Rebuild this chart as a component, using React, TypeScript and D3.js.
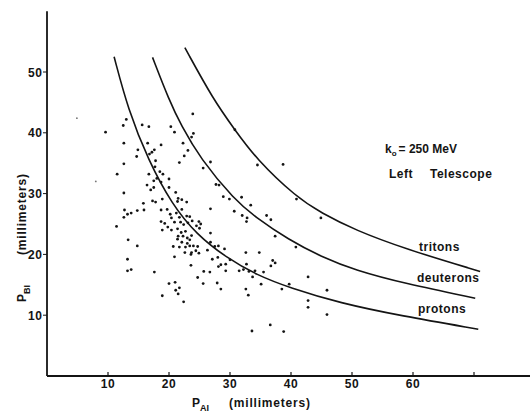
import React, { useEffect, useRef } from 'react';
import * as d3 from 'd3';

// event coordinates (P_AI, P_BI in mm)
const eventPA = [
  9.6, 13.0, 12.5, 15.6, 16.7, 20.3, 20.9, 23.9, 24.0, 23.7,
  12.6, 16.5, 18.7, 22.3, 14.9, 14.7, 17.2, 17.6, 16.8, 23.1,
  22.5, 21.7, 12.6, 17.8, 17.7, 26.8, 25.6, 30.8, 34.5, 38.7,
  11.5, 16.7, 18.5, 19.0, 18.0, 20.0, 18.7, 17.5, 16.4,
  17.5, 17.0, 20.0, 12.6, 21.1, 21.5, 22.1, 22.9, 21.4, 17.3,
  17.8, 18.9, 15.8, 27.7, 28.2, 28.9, 29.9, 31.9, 33.4, 26.8,
  30.7, 32.0, 32.8, 32.7, 36.0, 36.7, 37.4, 12.7, 13.8, 13.2,
  12.6, 11.4, 14.8, 15.9, 18.7, 19.7, 20.2, 21.2, 20.4, 21.7,
  20.9, 22.9, 23.4, 21.9, 22.4, 23.1, 23.8, 24.9, 25.2, 24.5,
  25.0, 18.7, 19.3, 19.8, 18.9, 20.4, 21.4, 22.0, 22.7, 21.5,
  22.3, 23.0, 23.7, 23.4, 22.1, 23.0, 22.7, 23.4, 24.0, 24.7,
  24.4, 23.7, 23.6, 24.9, 20.7, 21.7, 22.6, 20.9, 13.3, 14.8,
  26.3, 26.8, 27.5, 28.1, 29.1, 27.1, 28.0, 30.0, 32.6, 34.8,
  37.0, 37.4, 36.7, 13.2, 23.6, 28.5, 29.3, 28.1, 32.7, 34.1,
  35.5, 13.2, 13.8, 17.6, 25.7, 26.7, 29.3, 31.5, 32.2, 33.1,
  33.7, 24.7, 25.6, 27.9, 28.5, 32.6, 33.0, 35.1, 38.5, 20.0,
  21.0, 21.7, 21.1, 21.5, 18.9, 22.4, 39.7, 40.9, 44.9, 40.8,
  26.8, 42.8, 45.9, 42.8, 42.8, 45.9, 33.6, 36.6, 38.8,
  22.1, 21.4,
];
const eventPB = [
  40.1, 42.2, 41.2, 41.3, 41.0, 41.0, 40.1, 43.1, 39.9, 39.3,
  38.3, 38.3, 38.0, 38.3, 37.2, 36.1, 36.8, 37.2, 36.5, 37.1,
  36.2, 35.1, 34.9, 35.4, 34.4, 35.2, 34.2, 40.5, 34.7, 34.8,
  33.2, 33.2, 33.6, 33.2, 32.5, 32.4, 31.9, 32.1, 31.4,
  31.0, 30.6, 31.0, 30.1, 30.2, 29.2, 29.0, 28.6, 28.7, 28.8,
  28.6, 29.1, 28.4, 31.5, 31.4, 29.5, 29.1, 29.4, 28.1, 27.5,
  27.1, 26.4, 26.0, 25.4, 26.4, 25.7, 23.0, 27.3, 26.8, 26.6,
  26.1, 24.6, 27.2, 27.3, 27.3, 27.4, 26.6, 26.8, 26.0, 26.1,
  25.3, 26.3, 26.2, 25.3, 24.9, 25.2, 25.5, 25.4, 25.0, 24.7,
  24.3, 25.4, 25.1, 24.5, 24.0, 24.0, 24.2, 23.6, 23.8, 23.0,
  23.0, 22.7, 23.1, 22.4, 22.0, 21.8, 21.2, 21.4, 21.4, 21.3,
  20.6, 20.3, 20.0, 20.2, 21.3, 21.2, 20.3, 19.6, 22.4, 21.4,
  20.7, 22.0, 21.3, 21.4, 20.9, 19.2, 19.5, 19.1, 20.3, 20.3,
  19.0, 18.6, 18.1, 19.2, 18.2, 18.3, 18.4, 18.0, 18.4, 17.3,
  17.1, 17.3, 17.5, 17.1, 17.2, 17.1, 17.3, 17.3, 17.5, 17.2,
  16.3, 16.2, 15.2, 15.3, 14.3, 14.3, 13.3, 15.1, 14.3, 15.2,
  15.4, 14.5, 14.1, 13.5, 13.2, 12.2, 15.1, 29.1, 26.0, 21.2,
  23.5, 16.3, 14.1, 12.4, 11.3, 10.1, 7.4, 8.4, 7.3,
  27.4, 22.5,
];

// faint specks outside the main cluster
const faintPA = [4.9, 8.0];
const faintPB = [42.4, 32.0];

// calculated range curves [P_AI, P_BI]
const protonCurve = [
  [11.0, 52.5], [13.3, 43.8], [16.6, 35.5], [20.5, 28.2], [24.5, 23.3], [29.5, 19.4],
  [34.4, 16.6], [39.8, 14.5], [48.0, 12.0], [58.0, 9.9], [70.7, 7.7],
];
const deuteronCurve = [
  [17.3, 52.4], [20.0, 45.4], [22.0, 41.2], [25.1, 35.8], [30.8, 28.9], [34.1, 26.2],
  [39.6, 22.4], [45.0, 19.6], [50.5, 17.4], [58.7, 15.2], [70.2, 12.8],
];
const tritonCurve = [
  [22.6, 54.0], [27.3, 45.4], [30.8, 40.5], [34.3, 35.7], [40.9, 29.4], [45.0, 26.8],
  [50.5, 24.0], [58.7, 20.9], [71.0, 17.2],
];

const yTicks = [10, 20, 30, 40, 50];
const xTicks = [10, 20, 30, 40, 50, 60, 70];
const xTickLabels = ['10', '20', '30', '40', '50', '60', ''];

const FONT = '"Liberation Sans", Arial, sans-serif';
const INK = '#141414';

const App = () => {
  const ref = useRef<SVGSVGElement | null>(null);

  useEffect(() => {
    const svg = d3.select(ref.current);
    svg.selectAll('*').remove();

    const x = d3.scaleLinear().domain([0, 70]).range([47, 474]);
    const y = d3.scaleLinear().domain([0, 50]).range([376, 72]);

    // axes lines
    svg.append('line')
      .attr('x1', x(0)).attr('x2', 530)
      .attr('y1', y(0)).attr('y2', y(0))
      .attr('stroke', INK).attr('stroke-width', 1.8);
    svg.append('line')
      .attr('x1', x(0)).attr('x2', x(0))
      .attr('y1', y(0)).attr('y2', y(60))
      .attr('stroke', INK).attr('stroke-width', 1.8);

    // y ticks (outward)
    const yg = svg.append('g');
    yTicks.forEach(t => {
      yg.append('line')
        .attr('x1', x(0) - 4).attr('x2', x(0))
        .attr('y1', y(t)).attr('y2', y(t))
        .attr('stroke', INK).attr('stroke-width', 1);
      yg.append('text')
        .attr('x', x(0) - 4.5).attr('y', y(t) + 4.5)
        .attr('text-anchor', 'end')
        .attr('font-family', FONT).attr('font-size', 12).attr('font-weight', 'bold')
        .attr('letter-spacing', 0.6)
        .attr('fill', INK)
        .text(String(t));
    });

    // x ticks (inward)
    const xg = svg.append('g');
    xTicks.forEach((t, i) => {
      xg.append('line')
        .attr('x1', x(t)).attr('x2', x(t))
        .attr('y1', y(0) - 4).attr('y2', y(0))
        .attr('stroke', INK).attr('stroke-width', 1.2);
      xg.append('text')
        .attr('x', x(t)).attr('y', 388)
        .attr('text-anchor', 'middle')
        .attr('font-family', FONT).attr('font-size', 12).attr('font-weight', 'bold')
        .attr('letter-spacing', 0.6)
        .attr('fill', INK)
        .text(xTickLabels[i]);
    });

    // curves
    const line = d3.line<number[]>()
      .x(d => x(d[0]))
      .y(d => y(d[1]))
      .curve(d3.curveBasis);
    [protonCurve, deuteronCurve, tritonCurve].forEach(c => {
      svg.append('path')
        .attr('d', line(c))
        .attr('fill', 'none')
        .attr('stroke', INK)
        .attr('stroke-width', 1.6);
    });

    // events
    svg.append('g')
      .selectAll('circle')
      .data(d3.range(eventPA.length))
      .join('circle')
      .attr('cx', i => x(eventPA[i]))
      .attr('cy', i => y(eventPB[i]))
      .attr('r', 1.4)
      .attr('fill', INK);

    svg.append('g')
      .selectAll('circle')
      .data(d3.range(faintPA.length))
      .join('circle')
      .attr('cx', i => x(faintPA[i]))
      .attr('cy', i => y(faintPB[i]))
      .attr('r', 0.9)
      .attr('fill', '#777');

    const label = (tx: number, ty: number, txt: string, size = 12) =>
      svg.append('text')
        .attr('x', tx).attr('y', ty)
        .attr('font-family', FONT).attr('font-size', size).attr('font-weight', 'bold')
        .attr('letter-spacing', 0.5)
        .attr('fill', INK)
        .text(txt);

    // curve names
    label(419, 251, 'tritons');
    label(417, 282, 'deuterons');
    label(418, 313, 'protons');

    // annotation
    const k = svg.append('text')
      .attr('x', 385).attr('y', 153)
      .attr('font-family', FONT).attr('font-size', 12).attr('font-weight', 'bold')
      .attr('fill', INK);
    k.append('tspan').text('k');
    k.append('tspan').attr('dy', 3).attr('font-size', 8).text('o');
    k.append('tspan').attr('dy', -3).attr('dx', 2).text('= 250 MeV');
    const lt = svg.append('text')
      .attr('x', 389).attr('y', 178)
      .attr('font-family', FONT).attr('font-size', 12).attr('font-weight', 'bold')
      .attr('letter-spacing', 0.5)
      .attr('fill', INK);
    lt.append('tspan').text('Left');
    lt.append('tspan').attr('x', 430).text('Telescope');

    // x-axis title
    const xt = svg.append('text')
      .attr('x', 192).attr('y', 407)
      .attr('font-family', FONT).attr('font-size', 12).attr('font-weight', 'bold')
      .attr('fill', INK);
    xt.append('tspan').text('P');
    xt.append('tspan').attr('dy', 4).attr('font-size', 9).text('AI');
    xt.append('tspan').attr('x', 229).attr('dy', -4).attr('letter-spacing', 0.8).text('(millimeters)');

    // y-axis title
    const yt = svg.append('text')
      .attr('transform', 'translate(26,302) rotate(-90)')
      .attr('font-family', FONT).attr('font-size', 12).attr('font-weight', 'bold')
      .attr('fill', INK);
    yt.append('tspan').text('P');
    yt.append('tspan').attr('dy', 4).attr('font-size', 9).text('BI');
    yt.append('tspan').attr('x', 47).attr('dy', -4).attr('letter-spacing', 0.8).text('(millimeters)');
  }, []);

  return (
    <svg
      ref={ref}
      width={530}
      height={413}
      style={{ position: 'absolute', left: 0, top: 0, background: '#fff' }}
    />
  );
};

export default App;
